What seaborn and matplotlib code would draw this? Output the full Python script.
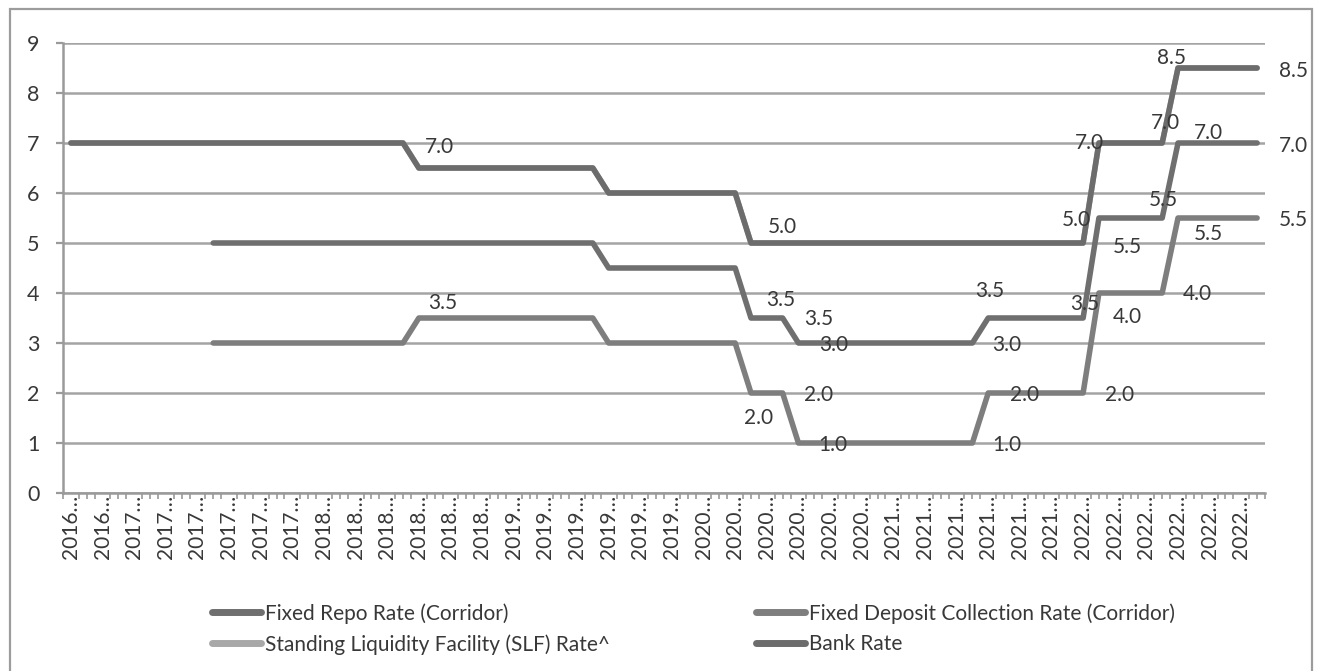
import numpy as np
import pandas as pd
import seaborn as sns
import matplotlib.pyplot as plt
from matplotlib.lines import Line2D
from matplotlib.patches import Rectangle

nan = np.nan

# one point per period on the category axis (76 periods, 2016-2022)
bank_rate = [7.0, 7.0, 7.0, 7.0, 7.0, 7.0, 7.0, 7.0, 7.0, 7.0, 7.0, 7.0, 7.0, 7.0, 7.0, 7.0,
             7.0, 7.0, 7.0, 7.0, 7.0, 7.0, 6.5, 6.5, 6.5, 6.5, 6.5, 6.5, 6.5, 6.5, 6.5, 6.5,
             6.5, 6.5, 6.0, 6.0, 6.0, 6.0, 6.0, 6.0, 6.0, 6.0, 6.0, 5.0, 5.0, 5.0, 5.0, 5.0,
             5.0, 5.0, 5.0, 5.0, 5.0, 5.0, 5.0, 5.0, 5.0, 5.0, 5.0, 5.0, 5.0, 5.0, 5.0, 5.0,
             5.0, 7.0, 7.0, 7.0, 7.0, 7.0, 8.5, 8.5, 8.5, 8.5, 8.5, 8.5]
slf_rate = list(bank_rate)  # sits under the bank rate line
repo_rate = [nan, nan, nan, nan, nan, nan, nan, nan, nan, 5.0, 5.0, 5.0, 5.0, 5.0, 5.0, 5.0,
             5.0, 5.0, 5.0, 5.0, 5.0, 5.0, 5.0, 5.0, 5.0, 5.0, 5.0, 5.0, 5.0, 5.0, 5.0, 5.0,
             5.0, 5.0, 4.5, 4.5, 4.5, 4.5, 4.5, 4.5, 4.5, 4.5, 4.5, 3.5, 3.5, 3.5, 3.0, 3.0,
             3.0, 3.0, 3.0, 3.0, 3.0, 3.0, 3.0, 3.0, 3.0, 3.0, 3.5, 3.5, 3.5, 3.5, 3.5, 3.5,
             3.5, 5.5, 5.5, 5.5, 5.5, 5.5, 7.0, 7.0, 7.0, 7.0, 7.0, 7.0]
deposit_rate = [nan, nan, nan, nan, nan, nan, nan, nan, nan, 3.0, 3.0, 3.0, 3.0, 3.0, 3.0, 3.0,
                3.0, 3.0, 3.0, 3.0, 3.0, 3.0, 3.5, 3.5, 3.5, 3.5, 3.5, 3.5, 3.5, 3.5, 3.5, 3.5,
                3.5, 3.5, 3.0, 3.0, 3.0, 3.0, 3.0, 3.0, 3.0, 3.0, 3.0, 2.0, 2.0, 2.0, 1.0, 1.0,
                1.0, 1.0, 1.0, 1.0, 1.0, 1.0, 1.0, 1.0, 1.0, 1.0, 2.0, 2.0, 2.0, 2.0, 2.0, 2.0,
                2.0, 4.0, 4.0, 4.0, 4.0, 4.0, 5.5, 5.5, 5.5, 5.5, 5.5, 5.5]

# truncated category labels, shown on every second period
tick_years = ["2016", "2016",
              "2017", "2017", "2017", "2017", "2017", "2017",
              "2018", "2018", "2018", "2018", "2018", "2018",
              "2019", "2019", "2019", "2019", "2019", "2019",
              "2020", "2020", "2020", "2020", "2020", "2020",
              "2021", "2021", "2021", "2021", "2021", "2021",
              "2022", "2022", "2022", "2022", "2022", "2022"]

# data labels as placed on the chart: (text, period, value)
data_labels = [("7.0", 23.3, 6.92), ("3.5", 23.5, 3.80), ("5.0", 45.0, 5.32),
               ("3.5", 44.9, 3.86), ("3.5", 47.3, 3.48), ("3.0", 48.2, 2.96),
               ("2.0", 47.3, 1.96), ("2.0", 43.5, 1.50), ("1.0", 48.2, 0.96),
               ("3.5", 58.1, 4.04), ("3.0", 59.2, 2.96), ("2.0", 60.3, 1.96),
               ("1.0", 59.2, 0.96), ("5.0", 63.6, 5.46), ("7.0", 64.4, 7.00),
               ("3.5", 64.1, 3.78), ("5.5", 66.8, 4.92), ("4.0", 66.8, 3.52),
               ("2.0", 66.3, 1.96), ("7.0", 69.2, 7.40), ("8.5", 69.6, 8.70),
               ("5.5", 69.1, 5.86), ("7.0", 71.9, 7.20), ("5.5", 71.9, 5.18),
               ("4.0", 71.2, 3.98), ("8.5", 77.3, 8.44), ("7.0", 77.3, 6.94),
               ("5.5", 77.3, 5.46)]

names = ["Fixed Repo Rate (Corridor)", "Standing Liquidity Facility (SLF) Rate^",
         "Fixed Deposit Collection Rate (Corridor)", "Bank Rate"]
colors = ["#6f6f6f", "#a8a8a8", "#7e7e7e", "#6c6c6c"]

period = np.arange(len(bank_rate))
df = pd.DataFrame({"period": period, "bank": bank_rate, "slf": slf_rate,
                   "repo": repo_rate, "deposit": deposit_rate})

sns.set_style("white")
plt.rcParams["font.family"] = ["Lato", "DejaVu Sans"]
txt = "#383838"
grey = "#9a9a9a"

fig = plt.figure(figsize=(13.18, 6.71), dpi=100)
ax = fig.add_axes([63 / 1318, 1 - 493 / 671, (1265 - 63) / 1318, 450 / 671])

lw = 4.0
sns.lineplot(data=df, x="period", y="slf", ax=ax, color=colors[1], lw=lw)
sns.lineplot(data=df, x="period", y="deposit", ax=ax, color=colors[2], lw=lw)
sns.lineplot(data=df, x="period", y="repo", ax=ax, color=colors[0], lw=lw)
sns.lineplot(data=df, x="period", y="bank", ax=ax, color=colors[3], lw=lw)

for t, x, y in data_labels:
    ax.text(x, y, t, ha="center", va="center", fontsize=15, color=txt, clip_on=False)

ax.set_xlim(-0.5, len(period) - 0.5)
ax.set_ylim(0, 9)
ax.set_yticks(range(10))
ax.set_xticks(period[::2])
ax.set_xticklabels([y + "\u2026" for y in tick_years], rotation=90, va="top")
ax.set_xticks(np.arange(-0.5, len(period), 0.5), minor=True)
ax.set_xlabel("")
ax.set_ylabel("")

ax.yaxis.grid(True, color="#a4a4a4", lw=1.8)
ax.set_axisbelow(True)
for s in ["top", "right"]:
    ax.spines[s].set_visible(False)
for s in ["left", "bottom"]:
    ax.spines[s].set_color(grey)
    ax.spines[s].set_linewidth(1.8)

ax.tick_params(axis="y", length=5, width=1.6, color=grey, pad=12,
               labelsize=15.5, labelcolor=txt, left=True)
ax.tick_params(axis="x", which="major", length=0, pad=1.5, labelsize=15, labelcolor=txt)
ax.tick_params(axis="x", which="minor", length=4, width=1.2, color=grey, bottom=True)

handles = [Line2D([], [], color=c, lw=5) for c in colors]
fig.legend(handles, names, loc="upper left", bbox_to_anchor=(212 / 1318, 1 - 603 / 671),
           ncol=2, frameon=False, fontsize=15, handlelength=2.35, handletextpad=0.2,
           columnspacing=7.0, labelspacing=0.5, borderpad=0, borderaxespad=0,
           labelcolor=txt)

fig.add_artist(Rectangle((10 / 1318, -0.05), 1302 / 1318, 1.05 - 9 / 671,
                         transform=fig.transFigure, fill=False, ec="#9c9c9c", lw=1.6))

fig.savefig("out.png", dpi=100)
